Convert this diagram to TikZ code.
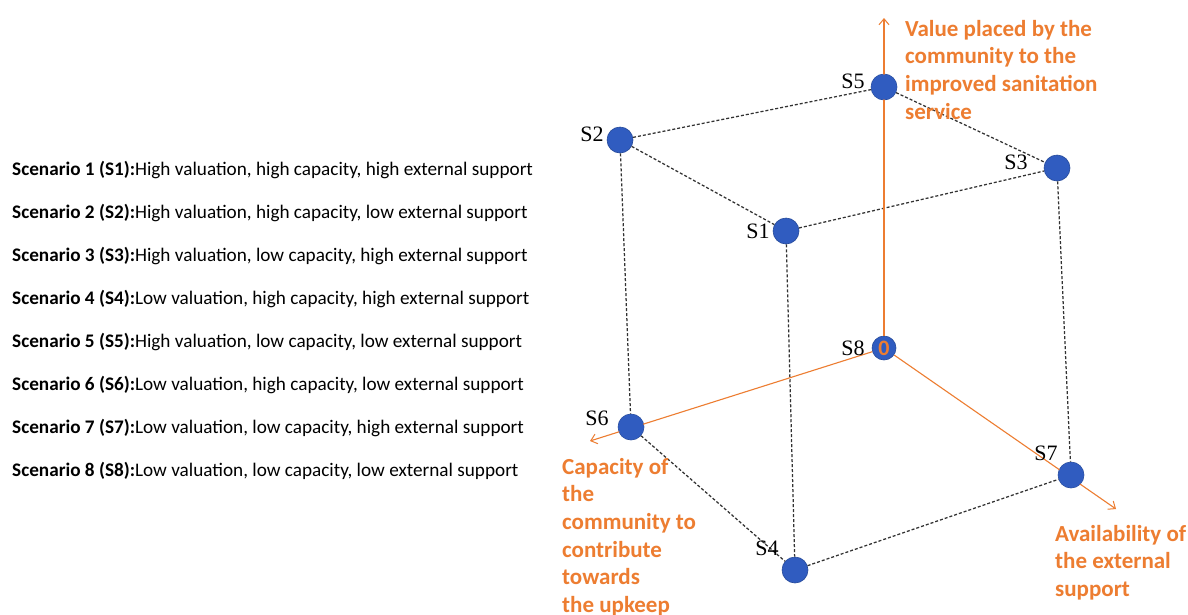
\documentclass[tikz,border=0pt]{standalone}
\usepackage{fontspec}
\setmainfont{Carlito}
\newfontfamily\tnr{Liberation Serif}
\usetikzlibrary{arrows.meta}
\definecolor{axisorange}{RGB}{237,125,49}
\definecolor{dotblue}{RGB}{48,92,192}
\definecolor{edgegray}{RGB}{50,50,50}
\begin{document}
\begin{tikzpicture}[x=1pt,y=-1pt,
 dot/.style={circle,fill=dotblue,draw=dotblue!80!black,line width=0.6pt,minimum size=26pt,inner sep=0},
 slabel/.style={font=\tnr\fontsize{22}{22}\selectfont,inner sep=0},
 cubeedge/.style={draw=edgegray,line width=1.25pt,dash pattern=on 3pt off 2pt},
 axis/.style={draw=axisorange,line width=1.1pt,-{Straight Barb[length=6pt,width=10pt,line width=1pt]}},
 axislabel/.style={text=axisorange,font=\fontsize{23}{27.6}\selectfont\bfseries,align=left,anchor=north west,inner sep=0},
 scen/.style={font=\fontsize{19.2}{22}\selectfont,anchor=west,inner sep=0}]
\useasboundingbox (0,0) rectangle (1188,614);
\fill[white] (0,0) rectangle (1188,614);

% scenario list
\node[scen] (t1) at (12,170) {\textbf{Scenario 1 (S1):}High valuation, high capacity, high external support};
\node[scen] (t2) at (12,213) {\textbf{Scenario 2 (S2):}High valuation, high capacity, low external support};
\node[scen] (t3) at (12,256) {\textbf{Scenario 3 (S3):}High valuation, low capacity, high external support};
\node[scen] (t4) at (12,299) {\textbf{Scenario 4 (S4):}Low valuation, high capacity, high external support};
\node[scen] (t5) at (12,342) {\textbf{Scenario 5 (S5):}High valuation, low capacity, low external support};
\node[scen] (t6) at (12,385) {\textbf{Scenario 6 (S6):}Low valuation, high capacity, low external support};
\node[scen] (t7) at (12,428) {\textbf{Scenario 7 (S7):}Low valuation, low capacity, high external support};
\node[scen] (t8) at (12,471) {\textbf{Scenario 8 (S8):}Low valuation, low capacity, low external support};

% cube vertices (positions only)
\coordinate (p5) at (884,87);
\coordinate (p2) at (620,140);
\coordinate (p3) at (1057,168);
\coordinate (p1) at (786,231);
\coordinate (p8) at (884,348);
\coordinate (p6) at (631,427);
\coordinate (p7) at (1071,475);
\coordinate (p4) at (795,570);
\coordinate (vtip) at (884,18);
\coordinate (ctip) at (590,441);
\coordinate (etip) at (1116,509);

% dots
\node[dot] (S5) at (p5) {};
\node[dot] (S2) at (p2) {};
\node[dot] (S3) at (p3) {};
\node[dot] (S1) at (p1) {};
\node[dot] (S6) at (p6) {};
\node[dot] (S7) at (p7) {};
\node[dot] (S4) at (p4) {};
\node[dot,minimum size=24pt,text=axisorange,font=\fontsize{22}{22}\selectfont\bfseries] (S8) at (p8) {0};

% cube edges
\draw[cubeedge] (S2) -- (S5);
\draw[cubeedge] (S5) -- (S3);
\draw[cubeedge] (S2) -- (S1);
\draw[cubeedge] (S1) -- (S3);
\draw[cubeedge] (S2) -- (S6);
\draw[cubeedge] (S1) -- (S4);
\draw[cubeedge] (S3) -- (S7);
\draw[cubeedge] (S6) -- (S4);
\draw[cubeedge] (S4) -- (S7);

% axes
\draw[axis] (S8) -- (vtip);
\draw[axis] (S8) -- (ctip);
\draw[axis] (S8) -- (etip);

% redraw dots on top of axes
\foreach \p in {p5,p6,p7}{
  \fill[dotblue] (\p) circle (12.6pt);
}

% vertex labels
\node[slabel] (l5) at (853,81) {S5};
\node[slabel] (l2) at (592,134) {S2};
\node[slabel] (l3) at (1016,162) {S3};
\node[slabel] (l1) at (758,231) {S1};
\node[slabel] (l8) at (853,348) {S8};
\node[slabel] (l6) at (597,418) {S6};
\node[slabel] (l7) at (1046,453) {S7};
\node[slabel] (l4) at (767,548) {S4};

% axis labels
\node[axislabel] (av) at (905,20) {Value placed by the\\community to the\\improved sanitation\\service};
\node[axislabel] (ac) at (562,458) {Capacity of\\the\\community to\\contribute\\towards\\the upkeep};
\node[axislabel] (ae) at (1055,525) {Availability of\\the external\\support};
\end{tikzpicture}
\end{document}
